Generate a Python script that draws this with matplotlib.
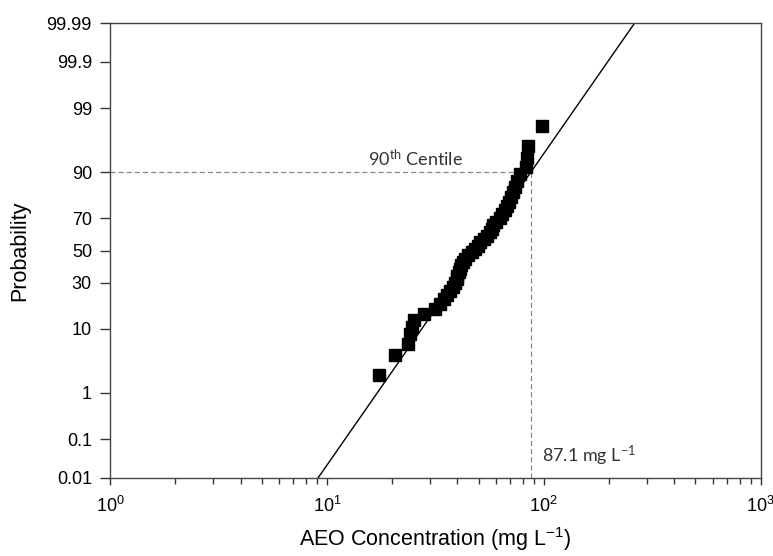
import numpy as np
import matplotlib.pyplot as plt
from statistics import NormalDist

# AEO concentrations (mg/L), sorted, and their plotting positions (%)
conc = [17.3, 20.6, 23.6, 24.2, 24.7, 25.3, 27.9, 31.5, 33.3, 34.5,
        35.6, 37.0, 38.0, 39.0, 39.6, 40.0, 40.5, 41.0, 41.6, 42.3,
        43.3, 44.8, 46.5, 48.0, 49.5, 51.0, 52.8, 54.5, 56.3, 57.5,
        58.6, 60.5, 62.5, 64.5, 66.0, 67.5, 69.0, 70.5, 72.0, 73.5,
        75.0, 77.5, 82.5, 84.0, 84.7, 98.0]
prob = [2.1, 4.3, 6.4, 8.5, 10.6, 12.8, 14.9, 17.0, 19.1, 21.3,
        23.4, 25.5, 27.7, 29.8, 31.9, 34.0, 36.2, 38.3, 40.4, 42.6,
        44.7, 46.8, 48.9, 51.1, 53.2, 55.3, 57.4, 59.6, 61.7, 63.8,
        66.0, 68.1, 70.2, 72.3, 74.5, 76.6, 78.7, 80.9, 83.0, 85.1,
        87.2, 89.4, 91.5, 93.6, 95.7, 97.9]

# lognormal fit (log10 mean and sd)
fit_mu = 1.6888
fit_sigma = 0.196
centile_p = 90
centile_x = 87.1

yticks = [0.01, 0.1, 1, 10, 30, 50, 70, 90, 99, 99.9, 99.99]
ytick_labels = ['0.01', '0.1', '1', '10', '30', '50', '70', '90', '99', '99.9', '99.99']
xticks = [1, 10, 100, 1000]
xtick_labels = [r'$\mathregular{10^{0}}$', r'$\mathregular{10^{1}}$',
                r'$\mathregular{10^{2}}$', r'$\mathregular{10^{3}}$']

nd = NormalDist()
_ppf = np.vectorize(lambda v: nd.inv_cdf(v / 100.0), otypes=[float])
_cdf = np.vectorize(lambda v: 100.0 * nd.cdf(v), otypes=[float])


def p_to_z(p):
    p = np.clip(np.asarray(p, dtype=float), 1e-7, 100 - 1e-7)
    return _ppf(p)


def z_to_p(z):
    return _cdf(np.asarray(z, dtype=float))


plt.rcParams['font.family'] = ['Liberation Sans', 'DejaVu Sans']

fig = plt.figure(figsize=(7.73, 5.56), dpi=100)
ax = fig.add_axes([0.1423, 0.1408, 0.9841 - 0.1423, 0.958 - 0.1408])

ax.set_xscale('log')
ax.set_yscale('function', functions=(p_to_z, z_to_p))
ax.set_xlim(1, 1000)
ax.set_ylim(0.01, 99.99)

# fitted line across the whole probability range
pline = np.array([0.01, 0.1, 1, 10, 50, 90, 99, 99.9, 99.99])
xline = 10 ** (fit_mu + fit_sigma * p_to_z(pline))
ax.plot(xline, pline, color='black', lw=1.0, zorder=2)

# 90th centile guides
ax.plot([1, centile_x], [centile_p, centile_p], color='#888888', lw=0.9,
        dashes=(4, 2.5), zorder=1)
ax.plot([centile_x, centile_x], [0.01, centile_p], color='#888888', lw=0.9,
        dashes=(4, 2.5), zorder=1)

ax.plot(conc, prob, 's', color='black', markersize=8, zorder=3)

ax.annotate(r'$\mathregular{90^{th}}$ Centile', (15.5, centile_p),
            xytext=(0, 2), textcoords='offset points', ha='left', va='bottom',
            fontsize=13, family='Lato', color='#333333')
ax.annotate(r'87.1 mg L$\mathregular{^{-1}}$', (centile_x, 0.01),
            xytext=(8, 7), textcoords='offset points', ha='left', va='bottom',
            fontsize=13, family='Lato', color='#333333')

ax.set_yticks(yticks)
ax.set_yticklabels(ytick_labels)
ax.yaxis.set_minor_locator(plt.NullLocator())
ax.set_xticks(xticks)
ax.set_xticklabels(xtick_labels)

ax.tick_params(axis='y', which='major', direction='out', length=7, width=1,
               labelsize=13, pad=6, color='#333333')
ax.tick_params(axis='x', which='major', direction='out', length=5, width=1,
               labelsize=13, pad=8, color='#333333')
ax.tick_params(axis='x', which='minor', direction='out', length=4, width=1,
               color='#333333')

for s in ax.spines.values():
    s.set_color('#444444')
    s.set_linewidth(1.0)

ax.set_xlabel(r'AEO Concentration (mg L$\mathregular{^{-1}}$)', fontsize=15.5,
              labelpad=7)
ax.set_ylabel('Probability', fontsize=15.5, labelpad=12)

fig.savefig('out.png', dpi=100)
